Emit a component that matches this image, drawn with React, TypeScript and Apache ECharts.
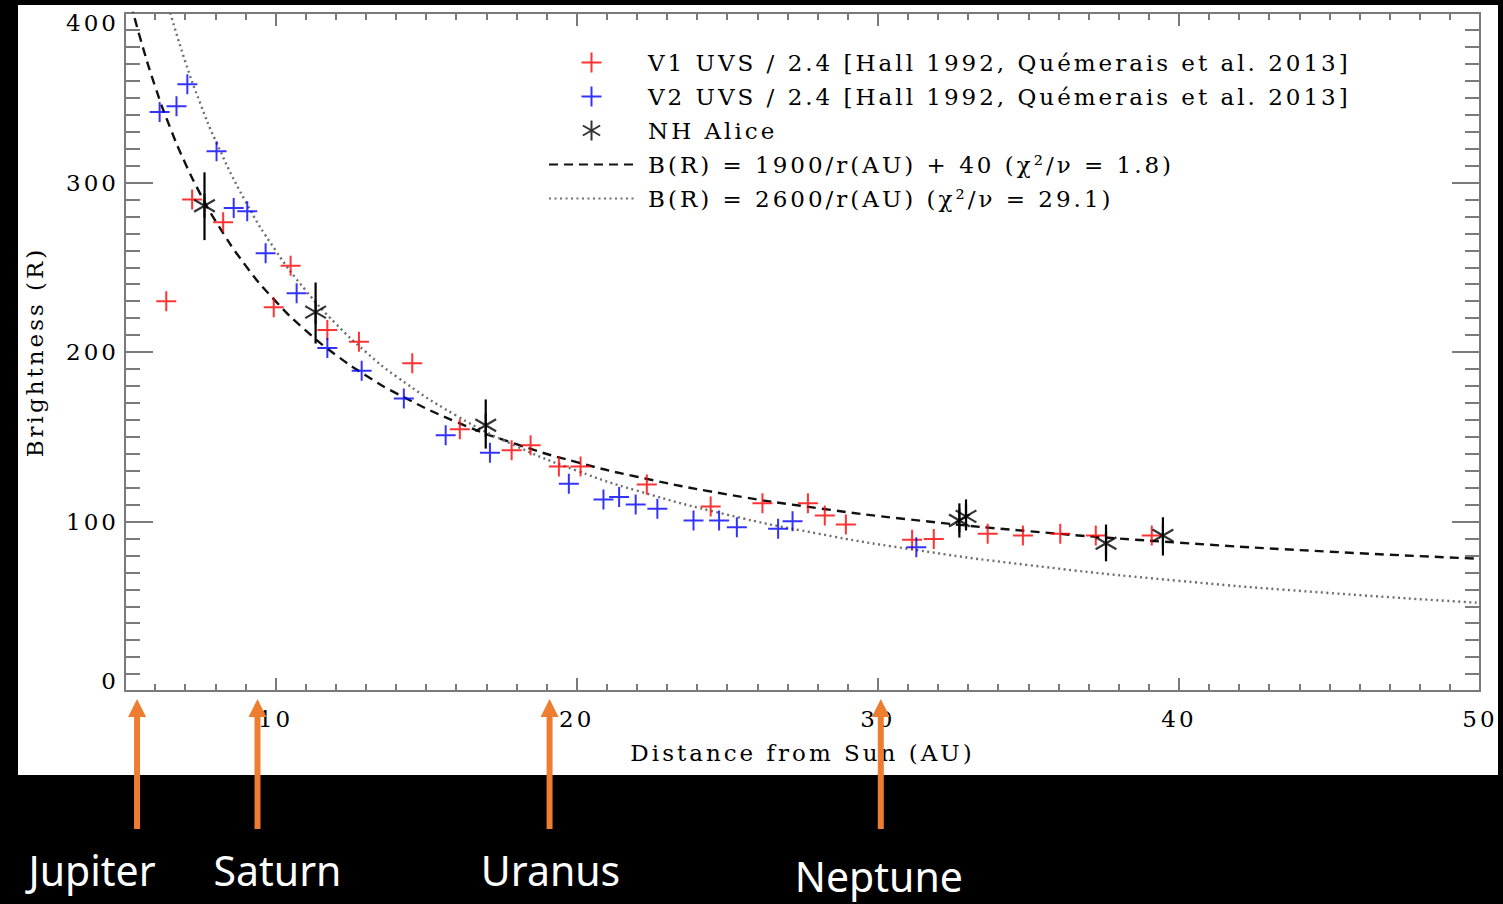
import React, { useEffect, useRef } from "react";
import * as echarts from "echarts";

// ---------- data ----------
const v1Distance = [6.37, 7.23, 8.26, 9.94, 10.5, 11.72, 12.77, 14.54, 16.12, 17.84, 18.47, 19.41, 20.13, 22.33, 24.45, 26.17, 27.68, 28.24, 28.94, 31.14, 31.86, 33.65, 34.82, 36.06, 37.24, 39.1];
const v1Brightness = [230, 290, 276.5, 226.4, 250.9, 213, 206, 193.3, 154.4, 142, 145, 132.5, 132.5, 121.9, 108.9, 110.8, 110.8, 103.6, 98.2, 89.2, 89.7, 92.7, 91.7, 92.7, 91.7, 91.7];

const v2Distance = [6.15, 6.71, 7.07, 8.04, 8.61, 9.06, 9.67, 10.7, 11.72, 12.86, 14.26, 15.65, 17.12, 19.74, 20.89, 21.41, 21.96, 22.68, 23.88, 24.73, 25.32, 26.69, 27.17, 31.28];
const v2Brightness = [341.6, 345, 358, 318.5, 285, 283, 258.3, 234.7, 202.4, 189, 172.6, 150.9, 140.6, 122.3, 113, 114.4, 110, 107.5, 100.6, 100.6, 96.6, 95.7, 100.2, 84.8];

const aliceDistance = [7.64, 11.33, 16.98, 32.71, 32.93, 37.58, 39.47];
const aliceBrightness = [286.3, 223.5, 156.8, 100.6, 103, 87.2, 91.7];
const aliceLow = [266, 205, 143, 90.5, 94.7, 76.5, 79.9];
const aliceHigh = [306, 241, 172, 110.7, 113, 98.2, 102.5];

const fit1Distance = [5.2, 5.5, 6, 6.5, 7, 7.5, 8, 9, 10, 11, 12, 13, 14, 16, 18, 20, 22, 25, 28, 31, 35, 40, 45, 50];
const fit1Brightness = [405.4, 385.5, 356.7, 332.3, 311.4, 293.3, 277.5, 251.1, 230, 212.7, 198.3, 186.2, 175.7, 158.8, 145.6, 135, 126.4, 116, 107.9, 101.3, 94.3, 87.5, 82.2, 78];

const fit2Distance = [6.4, 7, 7.5, 8, 9, 10, 11, 12, 13, 14, 16, 18, 20, 22, 25, 28, 31, 35, 40, 45, 50];
const fit2Brightness = [406.3, 371.4, 346.7, 325, 288.9, 260, 236.4, 216.7, 200, 185.7, 162.5, 144.4, 130, 118.2, 104, 92.9, 83.9, 74.3, 65, 57.8, 52];

const xTickLabels = [10, 20, 30, 40, 50];
const planetNames = ["Jupiter", "Saturn", "Uranus", "Neptune"];
const planetDistance = [5.4, 9.4, 19.1, 30.1];

const seriesNames = [
  "V1 UVS / 2.4 [Hall 1992, Quémerais et al. 2013]",
  "V2 UVS / 2.4 [Hall 1992, Quémerais et al. 2013]",
  "NH Alice",
  "B(R) = 1900/r(AU) + 40 (χ²/ν = 1.8)",
  "B(R) = 2600/r(AU) (χ²/ν = 29.1)",
];

// ---------- styling ----------
const SERIF = "DejaVu Serif";
const GRAY = "#7a7a7a";
const RED = "#ff0000";
const BLUE = "#0000ff";
const ORANGE = "#ED7D31";
const PLUS = "path://M0,-10L0,10M-10,0L10,0";
const STAR = "path://M0,-10L0,10M-8.66,-5L8.66,5M-8.66,5L8.66,-5";

const minorX: number[] = [];
for (let v = 6; v < 50; v++) if (v % 10 !== 0) minorX.push(v);

const txt = { fontFamily: SERIF, fontSize: 23, color: "#000" };

function xAxisDef(position: "top" | "bottom", major: boolean, withLabels: boolean) {
  return {
    type: "value",
    position,
    min: 5,
    max: 50,
    gridIndex: 0,
    name: withLabels ? "Distance from Sun (AU)" : "",
    nameLocation: "middle",
    nameGap: 50,
    nameTextStyle: txt,
    axisLine: { show: major, onZero: false, lineStyle: { color: GRAY, width: 2 } },
    axisTick: {
      show: true,
      inside: true,
      length: major ? 13 : 7,
      customValues: major ? xTickLabels : minorX,
      lineStyle: { color: GRAY, width: 2 },
    },
    axisLabel: withLabels
      ? { show: true, margin: 16, customValues: xTickLabels, ...txt }
      : { show: false },
    splitLine: { show: false },
  };
}

function yAxisDef(position: "left" | "right", withLabels: boolean) {
  return {
    type: "value",
    position,
    min: 0,
    max: 400,
    interval: 100,
    name: withLabels ? "Brightness (R)" : "",
    nameLocation: "middle",
    nameGap: 79,
    nameTextStyle: txt,
    axisLine: { show: true, onZero: false, lineStyle: { color: GRAY, width: 2 } },
    axisTick: { show: true, inside: true, length: 28, lineStyle: { color: GRAY, width: 2 } },
    minorTick: { show: true, splitNumber: 10, length: 15, lineStyle: { color: GRAY, width: 2 } },
    axisLabel: withLabels
      ? {
          show: true,
          margin: 6,
          ...txt,
          formatter: (v: number) => (v === 400 ? `{dn|${v}}` : v === 0 ? `{up|${v}}` : `${v}`),
          rich: {
            dn: { ...txt, padding: [20, 0, 0, 0] },
            up: { ...txt, padding: [0, 0, 20, 0] },
          },
        }
      : { show: false },
    splitLine: { show: false },
    minorSplitLine: { show: false },
  };
}

function buildOption() {
  return {
    animation: false,
    backgroundColor: "transparent",
    grid: { left: 125, right: 23, top: 13, bottom: 213, containLabel: false, outerBoundsMode: "none" },
    legend: {
      orient: "vertical",
      left: 548,
      top: 51,
      padding: 0,
      itemWidth: 85,
      itemHeight: 20,
      itemGap: 11,
      selectedMode: false,
      itemStyle: { borderWidth: 2 },
      textStyle: { ...txt, padding: [0, 0, 0, 9] },
      data: [
        seriesNames[0],
        seriesNames[1],
        seriesNames[2],
        { name: seriesNames[3], itemStyle: { opacity: 0 } },
        { name: seriesNames[4], itemStyle: { opacity: 0 } },
      ],
    },
    xAxis: [
      xAxisDef("bottom", true, true),
      xAxisDef("bottom", false, false),
      xAxisDef("top", true, false),
      xAxisDef("top", false, false),
    ],
    yAxis: [yAxisDef("left", true), yAxisDef("right", false)],
    series: [
      {
        name: seriesNames[3],
        type: "line",
        data: fit1Distance.map((r, i) => [r, fit1Brightness[i]]),
        smooth: true,
        symbol: "none",
        lineStyle: { color: "#111", width: 2.4, type: [9, 6] },
        itemStyle: { color: "#111" },
        z: 2,
      },
      {
        name: seriesNames[4],
        type: "line",
        data: fit2Distance.map((r, i) => [r, fit2Brightness[i]]),
        smooth: true,
        symbol: "none",
        lineStyle: { color: "#6e6e6e", width: 2.4, type: [2, 3.5] },
        itemStyle: { color: "#6e6e6e" },
        z: 2,
      },
      {
        name: seriesNames[0],
        type: "scatter",
        data: v1Distance.map((r, i) => [r, v1Brightness[i]]),
        symbol: PLUS,
        symbolSize: 20,
        symbolKeepAspect: true,
        itemStyle: { color: RED, borderColor: RED, borderWidth: 2 },
        z: 3,
      },
      {
        name: seriesNames[1],
        type: "scatter",
        data: v2Distance.map((r, i) => [r, v2Brightness[i]]),
        symbol: PLUS,
        symbolSize: 20,
        symbolKeepAspect: true,
        itemStyle: { color: BLUE, borderColor: BLUE, borderWidth: 2 },
        z: 3,
      },
      {
        name: "NH Alice error",
        type: "custom",
        data: aliceDistance.map((r, i) => [r, aliceLow[i], aliceHigh[i]]),
        encode: { x: 0, y: [1, 2] },
        renderItem: (_p: any, api: any) => {
          const x = api.value(0);
          const lo = api.coord([x, api.value(1)]);
          const hi = api.coord([x, api.value(2)]);
          return {
            type: "line",
            shape: { x1: lo[0], y1: lo[1], x2: hi[0], y2: hi[1] },
            style: { stroke: "#000", lineWidth: 2.2 },
          };
        },
        z: 4,
      },
      {
        name: seriesNames[2],
        type: "scatter",
        data: aliceDistance.map((r, i) => [r, aliceBrightness[i]]),
        symbol: STAR,
        symbolSize: 24,
        symbolKeepAspect: true,
        itemStyle: { color: "#000", borderColor: "#000", borderWidth: 2.2 },
        z: 5,
      },
    ],
  };
}

export default function App() {
  const ref = useRef<HTMLDivElement>(null);
  useEffect(() => {
    if (!ref.current) return;
    const chart = echarts.init(ref.current, null, { renderer: "svg" });
    chart.setOption(buildOption() as any);

    const labelDx = [-45, 20, 1, -2];
    const labelY = [870, 870, 870, 876];
    const graphics: any[] = [
      {
        type: "rect",
        id: "paper",
        shape: { x: 18, y: 5, width: 1480, height: 770 },
        style: { fill: "#fff" },
        z: -100,
        silent: true,
      },
    ];
    planetDistance.forEach((au, i) => {
      const px = chart.convertToPixel({ xAxisIndex: 0 } as any, au) as number;
      graphics.push({
        type: "line",
        shape: { x1: px, y1: 829, x2: px, y2: 712 },
        style: { stroke: ORANGE, lineWidth: 6 },
        z: 50,
      });
      graphics.push({
        type: "polygon",
        shape: { points: [[px, 699], [px - 9, 717], [px + 9, 717]] },
        style: { fill: ORANGE },
        z: 50,
      });
      graphics.push({
        type: "text",
        x: px + labelDx[i],
        y: labelY[i],
        style: {
          text: planetNames[i],
          fill: "#fff",
          font: '41px "Noto Sans"',
          textAlign: "center",
          textVerticalAlign: "middle",
        },
        z: 50,
      });
    });
    chart.setOption({ graphic: graphics } as any);
    return () => chart.dispose();
  }, []);

  return (
    <div style={{ position: "fixed", left: 0, top: 0, width: 1503, height: 904, background: "#000" }}>
      <style>{`.plotbox text[style*="DejaVu"]{letter-spacing:3px;}`}</style>
      <div ref={ref} className="plotbox" style={{ width: 1503, height: 904 }} />
    </div>
  );
}
